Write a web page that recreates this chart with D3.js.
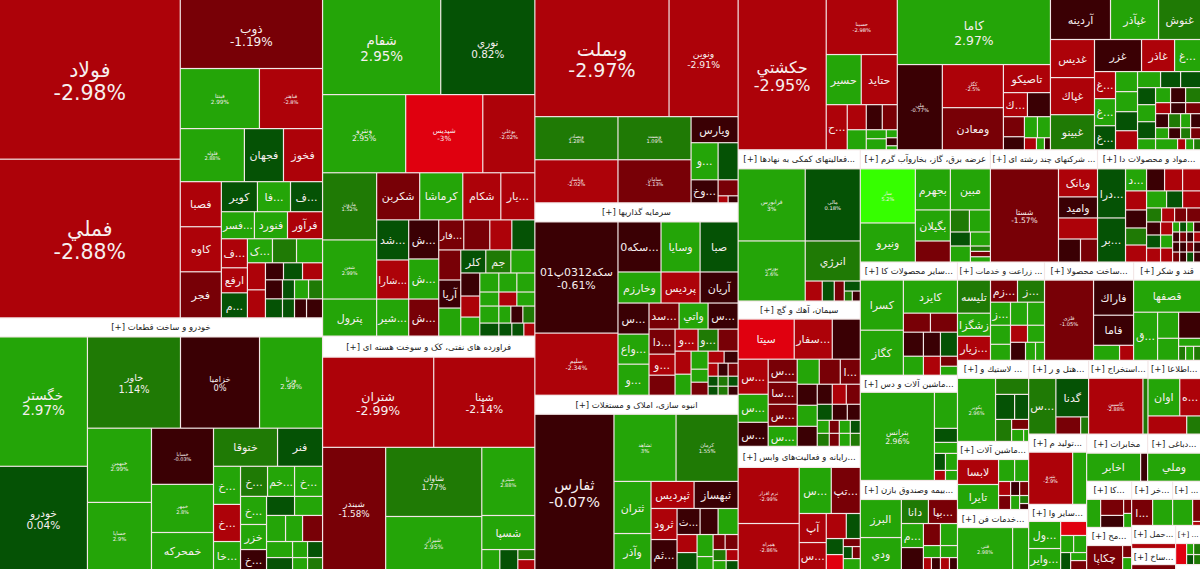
<!DOCTYPE html>
<html>
<head>
<meta charset="utf-8">
<script src="https://cdn.jsdelivr.net/npm/d3@7/dist/d3.min.js"></script>
<style>
  html, body { margin: 0; padding: 0; background: #f3e7e7; overflow: hidden; }
  svg { display: block; }
  text { font-family: "DejaVu Sans", "Noto Sans", sans-serif; }
</style>
</head>
<body>
<svg id="map" width="1200" height="569"></svg>
<script>
// R lays its children left to right, S top to bottom
function R() { return { dir: 'row', children: Array.prototype.slice.call(arguments) }; }
function S() { return { dir: 'stack', children: Array.prototype.slice.call(arguments) }; }
// c = cell with name only, big = cell with name and percent, h = sector title strip
function c(value, change, name) { return { value: value, change: change, name: name || '' }; }
function big(value, change, name) { return { value: value, change: change, name: name, showPct: true }; }
function h(value, name) { return { value: value, title: name }; }

// values are cell areas, change is the day's percent
// (where no percent is printed it is estimated from the cell colour)
var metalsTiny = S(R(c(306, -0.5), c(323, 0.5), c(340, -2.5)),
  R(S(c(323, -0.5), c(323, 0.5)),
    S(R(c(228, 0.5), c(266, 2.6), c(266, 1.4)),
      R(c(228, 0.5), c(228, -0.5), c(304, -0.5)))));
var metals = S(
  R(S(big(28800, -2.98, 'فولاد'), big(28600, -2.88, 'فملي')),
    S(big(9800, -1.19, 'ذوب'),
      R(big(4740, 2.99, 'فینتا'), big(3780, -2.8, 'فباهنر')),
      R(big(3392, 2.88, 'فلوله'), c(2067, 0.5, 'فجهان'), c(2067, -2.5, 'فخوز')),
      R(S(c(1845, -2.5, 'فصبا'), c(1845, -2.5, 'کاوه'), c(1886, -1.4, 'فجر')),
        S(R(c(1080, 0.5, 'کویر'), c(990, 2.6, '...فا'), c(960, 0.5, '...ف')),
          R(c(891, 2.6, '...فسر'), c(891, 2.6, 'فنورد'), c(945, -2.5, 'فرآور')),
          R(S(c(754, -2.5, '...ف'), c(650, -2.5, 'ارفع'), c(650, 0.5, '...م')),
            S(R(c(600, 2.6, '...ک'), c(576, 1.4), c(624, 2.6)),
              R(S(c(486, -2.5), c(504, -2.5)), metalsTiny)))))))
);

var autosTiny = S(R(c(532, 0.5), c(532, 2.6)),
  R(c(494, 2.6), c(442, 2.6), c(520, -1.4)),
  R(c(416, 2.6), c(240, 2.6), c(240, 0.5)),
  R(c(312, 0.5), c(180, 2.6), c(180, 1.4)));
var autos = R(
  S(big(11352, 2.97, 'خگستر'), big(9064, 0.04, 'خودرو')),
  S(R(big(8463, 1.14, 'خاور'), big(7189, 0, 'خزامیا'), big(5733, 2.99, 'ورنا')),
    R(S(big(4736, 2.99, 'خبهمن'), big(4288, 2.9, 'خساپا')),
      S(big(3472, -0.03, 'خسایا'), big(2976, 2.8, 'خمهر'), c(2294, 2.8, 'خمحرکه')),
      S(R(c(2432, 1.4, 'ختوقا'), c(1710, 0.5, 'فنر')),
        R(S(c(1026, 2.8, '...خ'), c(999, -2.5, '...خ'), c(756, 2.8, '...خا')),
          S(R(c(810, 1.4, '...خ'), c(810, 2.6, '...خم'), c(840, 2.6, '...خ')),
            R(S(c(728, 2.6, '...خ'), c(650, 2.6, 'خزر'), c(520, -0.5, '...خ')), autosTiny)))))
  )
);

var chemTiny = S(R(c(361, 2.6), c(342, 2.6), c(342, 2.6)),
  R(c(266, 2.6), c(252, -2.5), c(252, 2.6)),
  R(c(323, 2.6), c(204, 2.6), c(204, -0.5), c(204, 1.4)),
  R(c(247, 0.5), c(169, 0.5), c(156, 0.5), c(143, -2.5)));
var chemSmall = S(R(c(750, -1.4, '...فار'), c(780, -1.4), c(660, -2.5), c(690, 0.5)),
  R(S(c(660, -1.4), c(616, -0.5, 'آریا'), c(616, 2.6)),
    S(R(c(575, 0.5, 'کلر'), c(575, 1.4, 'جم'), c(552, 2.6)),
      R(S(c(437, -0.5), c(399, -2.5), c(361, 2.6)), chemTiny))));
var chemicals = S(
  R(big(11210, 2.95, 'شفام'), big(8930, 0.82, 'نوري')),
  R(big(6474, 2.95, 'ونترو'), big(6006, -3, 'شپدیس'), big(4056, -2.02, 'بوعلي')),
  R(S(big(3618, 1.52, 'مارون'), big(3186, 2.99, 'شفن'), c(1998, 2.6, 'پترول')),
    S(R(c(2021, -1.4, 'شکربن'), c(2021, 2.6, 'کرماشا'), c(1786, -2.5, 'شکام'), c(1598, -2.5, '...یار')),
      R(S(c(1280, 0.5, '...شد'), c(1248, -2.5, '...شارا'), c(1184, 2.6, '...شیر')),
        S(c(1170, -0.5, '...ش'), c(1200, 2.6, '...ش'), c(1110, -1.4, '...ش')),
        chemSmall)))
);

var oil = S(
  R(big(9990, -2.99, 'شتران'), big(9090, -2.14, 'شپنا')),
  R(big(7686, -1.58, 'شبندر'),
    S(big(6624, 1.77, 'شاوان'), big(5088, 2.95, 'شیراز')),
    S(big(3604, 2.88, 'شپترو'), c(1802, 2.6, 'شسپا'),
      R(c(360, 2.6), c(360, 0.5), S(c(170, 1.4), c(170, -2.5)))))
);

var banks = S(
  R(big(15678, -2.97, 'وبملت'), big(8073, -2.91, 'ونوین')),
  R(S(big(3569, 1.28, 'وبصادر'), big(3569, -2.02, 'وپاسار')),
    S(big(3139, 1.09, 'وپست'), big(3139, -1.13, 'سامان')),
    S(c(1222, -0.5, 'ویارس'),
      R(c(999, 2.6, '...و'), c(740, 0.5)),
      R(c(621, -0.5, '...وخ'), S(c(320, -1.4), R(c(70, -2.5), c(70, -0.5))))))
);

var investTiny = S(R(c(192, -2.5), c(168, -0.5)),
  R(c(130, -2.5), c(130, -0.5), c(130, -1.4)),
  R(c(100, 0.5), c(100, 1.4), c(100, 0.5)),
  R(c(90, 0.5), c(90, 1.4), c(90, -0.5)));
var investSmall = S(R(c(780, -1.4, '...سد'), c(754, 2.6, 'واتي'), c(780, -0.5, '...س')),
  R(S(c(650, -1.4, '...دا'), c(546, -2.5, '...و'), c(520, -1.4)),
    S(R(c(506, -2.5, '...و'), c(440, 1.4, '...و'), c(440, -1.4)),
      R(S(c(368, -2.5), c(336, 2.6)), S(c(306, 2.6), c(221, 2.6), c(221, -1.4)), investTiny))));
var investments = R(
  S(big(9213, -0.61, 'سکه0312پ01'), big(5146, -2.34, 'سلیم')),
  S(R(c(2150, -0.5, '...سکه0'), c(1950, 2.6, 'وسایا'), c(1900, 0.5, 'صبا')),
    R(c(1333, 2.6, 'وخارزم'), c(1209, -2.5, 'پردیس'), c(1178, -0.5, 'آریان')),
    R(S(c(961, -0.5, '...س'), c(930, 2.6, '...واع'), c(961, 2.6, '...و')), investSmall))
);

var estateTiny = S(R(c(180, -1.4), c(195, -1.4)),
  R(c(143, 1.4), c(132, -2.5)),
  R(c(117, 2.6), c(108, 0.5)));
var realEstate = R(
  big(12245, -0.07, 'ثفارس'),
  S(R(big(4154, 3, 'ثشاهد'), big(4154, 1.55, 'کرمان')),
    R(S(c(1924, 2.6, 'ثتران'), c(1332, 2.6, 'وآذر')),
      S(R(c(1161, -2.5, 'ثپردیس'), c(1188, -0.5, 'ثبهساز')),
        R(S(c(806, -2.5, 'ثرود'), c(780, -0.5, '...ثم')),
          S(R(c(598, -0.5, '...ث'), c(468, -0.5), c(520, 2.6)),
            R(S(c(360, -2.5), c(340, 0.5)), S(c(352, 2.6), c(208, 2.6)), estateTiny))))))
);

var pharma = R(
  big(13200, -2.95, 'حکشتي'),
  S(big(3905, -2.98, 'حسینا'),
    R(c(1750, 2.6, 'حسیر'), c(1800, -2.5, 'حتاید')),
    R(c(945, -2.5, '...ح'),
      S(R(c(475, -2.5), c(400, -0.5), c(375, -1.4)),
        R(c(380, 2.6), S(c(180, 2.6), c(220, 2.6)), S(c(88, 2.6), c(88, -0.5), c(44, 2.6))))))
);

var mining = S(
  big(9945, 2.97, 'کاما'),
  R(big(3825, -0.77, 'ملي'),
    S(big(2623, -2.5, 'کگل'), c(2562, -1.4, 'ومعادن')),
    S(c(1316, -2.5, 'تاصیکو'),
      R(c(576, -2.5, '...ك'), c(552, -0.5)),
      R(S(c(420, -1.4), c(273, -0.5)),
        S(R(c(273, 2.6), c(273, 2.6)), R(c(144, -2.5), c(96, 2.6), c(72, -0.5))))))
);

var foodTiny = S(R(c(225, 2.6), c(225, -0.5), c(225, 1.4)),
  R(c(165, -2.5), c(165, -0.5), c(165, -1.4)),
  R(c(182, -0.5), c(168, 1.4), c(140, 2.6), c(140, -0.5)),
  R(c(143, 2.6), c(132, -0.5), c(110, 1.4), c(110, -1.4)),
  R(c(242, 2.6), c(88, -2.5), c(88, 2.6), c(77, 1.4)));
var foodSmall = S(R(c(368, 2.6), c(320, 0.5), c(320, 0.5)),
  R(S(c(306, 0.5), c(306, 2.6), c(306, 0.5), c(198, 2.6)), foodTiny));
var food = S(
  R(c(2400, -0.5, 'آردینه'), c(1920, 2.6, 'غپآذر'), c(1680, 1.4, 'غنوش')),
  R(S(c(1672, -2.5, 'غدیس'), c(1628, -2.5, 'غپاك'), c(1540, 1.4, 'غبینو')),
    S(R(c(1504, -0.5, 'غزر'), c(1056, -2.5, 'غاذر'), c(832, 2.6, '...غ')),
      R(S(c(567, -2.5, '...غ'), c(567, 2.6, '...غ'), c(504, 0.5, '...غ')),
        S(c(440, 2.6), c(440, 2.6), c(418, 0.5), c(418, -2.5)),
        foodSmall)))
);

var financial = R(
  S(big(4824, 3, 'فرابورس'), big(4020, 2.6, 'بورس')),
  S(big(3960, 0.18, 'مالی'), c(2200, 1.4, 'انرژي'),
    R(c(340, -2.5), c(240, 0.5), c(200, -1.4), S(c(160, 0.5), R(c(80, 1.4), c(80, -0.5)))))
);

var cementTiny = S(R(c(300, -0.5), c(280, -2.5), c(280, -1.4)),
  R(c(240, 0.5), c(240, -0.5), c(208, -0.5)),
  R(S(c(156, 2.6), c(156, 1.4)), S(c(130, -1.4), c(130, -1.4)), S(c(143, 2.6), c(143, 2.6)), S(c(130, 0.5), c(130, 1.4))));
var cement = S(
  R(c(2240, -3.2, 'سیتا'), c(1520, -2.5, '...سفار'), c(1120, -0.5)),
  R(S(c(1050, -2.5, '...س'), c(840, 2.6, '...س'), c(720, -0.5, '...س')),
    S(c(667, -1.4, '...س'), c(638, -1.4, '...سا'), c(638, -1.4, '...س'), c(580, 2.6, '...س')),
    S(R(c(550, 2.6), c(525, -1.4), c(500, -1.4, '...ا')),
      R(S(c(420, -0.5), c(420, 2.6), c(400, -0.5)), cementTiny)))
);

var computing = R(
  S(big(3416, -2.99, 'نرم افزار'), big(2806, -2.86, 'همراه')),
  S(R(c(1472, 2.6, '...س'), c(1334, -1.4, '...تپ')),
    R(S(c(783, -2.5, 'آپ'), c(729, -2.5, '...س')),
      S(R(c(500, -2.5), c(350, 0.5)),
        R(S(c(272, 0.5), c(255, -3.2)),
          S(c(136, -1.4), R(c(108, 0.5), c(96, -1.4)), c(187, 2.6))))))
);

var power = R(
  S(big(2970, 5.2, 'ساز'), c(2145, 2.6, 'ونیرو')),
  S(c(1435, 2.6, 'بجهرم'), c(1085, 2.6, 'بگیلان'), c(735, -1.4)),
  S(c(1640, 2.6, 'مبین'), R(c(418, 1.4), c(462, 2.6)), R(c(280, 0.5), c(280, 2.6)),
    R(c(320, 2.6), S(c(107, 1.4), c(107, -1.4), c(106, 2.6))))
);

var holdings = R(
  big(6324, -1.57, 'شستا'),
  S(c(1092, -2.5, 'وبانک'), c(819, -0.5, 'وامید'), c(819, -2.5), R(c(506, -0.5), c(391, -1.4)))
);

var materialsTiny = S(R(c(70, 2.6), c(70, 0.5), c(70, 2.6), c(70, -0.5)),
  R(c(70, -0.5), c(70, -1.4), c(70, -0.5), c(70, -2.5)),
  R(c(70, -0.5), c(70, -0.5), c(70, -1.4), c(70, -0.5)),
  R(c(70, -1.4), c(70, -0.5), c(70, 0.5), c(70, -0.5)));
var medicalMaterials = R(
  S(c(1372, 0.5, '...درا'), c(1232, 0.5, '...بر')),
  S(c(462, 2.6, '...د'), c(399, -2.5), c(378, -0.5), c(357, 1.4), c(357, -2.5)),
  S(R(c(396, -0.5), c(396, -2.5), c(396, -2.5)),
    R(c(340, 2.6), c(272, 0.5), c(306, -2.5)),
    R(c(210, 1.4), c(182, -2.5), c(168, -1.4), c(196, -1.4)),
    R(S(c(182, -0.5), c(182, 0.5), c(196, -2.5)),
      S(c(156, -2.5), c(156, 2.6), c(168, -2.5)),
      materialsTiny))
);

var otherProducts = R(
  S(c(2150, 2.6, 'کسرا'), c(1935, 2.6, 'کگاز')),
  S(c(1782, 2.6, 'کایزد'),
    R(c(513, -1.4), c(513, -1.4)),
    R(c(480, -0.5), c(408, -0.5), c(408, 0.5)),
    R(c(380, 2.6), c(323, -2.5), S(c(170, -1.4), c(153, 2.6))))
);

var machinery = R(
  big(6512, 2.96, 'بترانس'),
  S(c(828, 2.6), c(322, 0.5), c(253, 2.6),
    R(S(c(187, 0.5), c(110, -2.5)), S(c(204, 2.6), c(120, 2.6))))
);

var insurance = R(
  S(c(1558, 2.6, 'البرز'), c(1312, 2.6, 'ودي')),
  S(R(c(648, 1.4, 'دانا'), c(696, -1.4, '...بپا')),
    R(S(c(528, 2.6, '...م'), c(484, -0.5)),
      S(R(c(374, -1.4), c(374, 2.6)),
        R(c(204, 2.6), c(204, 2.6)),
        R(c(96, -2.5), c(108, -0.5), c(108, -2.5), c(96, -0.5)))))
);

var farming = R(
  S(c(1089, 1.4, 'تلیسه'), c(759, 2.6, 'زشگزا'), c(792, -2.5, '...زیار')),
  S(R(c(594, -1.4, '...زم'), c(594, 1.4, '...ز')),
    R(S(c(460, 2.6, '...ز'), c(380, 2.6), c(320, 2.6)),
      S(R(c(391, 2.6), c(391, 2.6)),
        R(c(289, -2.5), c(289, 2.6)),
        R(c(270, -0.5), c(180, 2.6), c(162, 2.6)))))
);

var fabricated = R(
  big(3920, -1.05, 'فلزی'),
  S(c(1400, -0.5, 'فاراك'), c(1200, -0.5, 'فاما'), R(c(390, 2.6), c(210, -2.5)))
);

var sugar = S(
  c(2144, 2.6, 'قصفها'),
  R(c(1152, 2.6, '...ق'),
    S(c(546, 2.6), c(462, 2.6)),
    S(c(572, -0.5), c(176, 2.6), R(c(98, 1.4), c(112, 2.6), c(98, 1.4))))
);

var rubber = R(
  big(2394, 2.96, 'پکویر'),
  S(c(528, 1.4), R(c(475, 0.5), c(350, 0.5)),
    R(c(352, 1.4), S(c(170, -1.4), R(c(144, 2.6), c(60, 2.6)))))
);

var tools = R(
  S(c(1025, -2.5, 'لابسا'), c(1025, 2.6, 'تایرا')),
  S(R(c(352, 2.6), c(308, 2.6)),
    R(S(c(168, -2.5), c(168, -1.4)), S(c(126, -0.5), c(126, 2.6)), S(c(126, -1.4), c(72, 1.4), c(54, -0.5))))
);

var techServices = R(big(2310, 2.98, 'فنی'), c(672, 2.6));

var hotels = R(
  c(1512, 1.4, '...س'),
  S(c(1254, 0.5, 'گدنا'), R(c(425, -1.4), c(136, 1.4)))
);
var extraction = R(big(3024, -2.88, 'کاسپین'), c(280, 1.4));
var infoTech = S(
  R(c(1184, 2.6, 'اوان'), c(777, -2.5, '...ه')),
  R(c(702, -2.5), c(252, 1.4))
);

var devices = R(big(2288, -2.9, 'بنیرو'), c(728, 2.6));
var otherMisc = R(
  S(c(864, 2.6, '...ول'), c(672, 2.6, '...وایر')),
  S(c(364, -3.2), R(c(221, 2.6), c(221, 2.6)), R(c(170, 0.5), S(c(128, 2.6), c(144, -1.4))))
);
var telecom = R(c(1512, 2.6, 'اخابر'), c(196, -0.5));
var leather = c(1484, 2.6, 'وملي');
var sectorKa = R(c(392, 2.6), S(c(368, -1.4), c(276, -0.5)), S(c(112, -1.4), c(112, 2.6)));
var sectorMa = R(c(864, -1.4, 'چکاپا'), S(c(108, -1.4), c(108, 2.6)));
var retail = R(c(546, -1.4, '...ا'), c(520, 2.6));
var sectorSmall = R(c(520, 2.6), S(c(176, -1.4), c(32, -2.5)));
var transport = c(220, -2.5);
var building = c(220, -1.4);
var sectorTiny = R(c(231, -3.2), S(R(c(77, 2.6), c(77, 1.4)), R(c(70, 0.5), c(70, 1.4))));

// how the sectors are put together, with the weight of each title strip
var market = R(
  S(metals, h(6137, 'خودرو و ساخت قطعات [+]'), autos),
  S(chemicals, h(4452, 'فراورده های نفتی، کک و سوخت هسته ای [+]'), oil),
  S(banks, h(3857, 'سرمایه گذاریها [+]'), investments, h(3857, 'انبوه سازی، املاک و مستغلات [+]'), realEstate),
  S(
    R(pharma, mining, food),
    R(
      S(h(2318, '...فعالیتهای کمکی به نهادها [+]'), financial,
        h(2196, 'سیمان، آهك و گچ [+]'), cement,
        h(2562, '...رایانه و فعالیت‌های وابس [+]'), computing),
      S(
        R(
          S(h(2470, 'عرضه برق، گاز، بخاروآب گرم [+]'), power),
          S(h(2033, '... شرکتهای چند رشته ای [+]'), holdings),
          S(h(1957, '...مواد و محصولات دا [+]'), medicalMaterials)
        ),
        R(
          S(h(1746, '...سایر محصولات کا [+]'), otherProducts,
            h(1649, '...ماشین آلات و دس [+]'), machinery,
            h(1843, '...بیمه وصندوق بازن [+]'), insurance),
          S(
            R(
              S(h(1566, '... زراعت و خدمات [+]'), farming),
              S(h(1602, '...ساخت محصولا [+]'), fabricated),
              S(h(1206, 'قند و شکر [+]'), sugar)
            ),
            R(
              S(h(1278, '... لاستیك و [+]'), rubber,
                h(1278, '...ماشین آلات [+]'), tools,
                h(1278, '...خدمات فن [+]'), techServices),
              S(
                R(
                  S(h(1080, '...هتل و ر [+]'), hotels),
                  S(h(1062, '...استخراج [+]'), extraction),
                  S(h(954, '...اطلاعا [+]'), infoTech)
                ),
                R(
                  S(h(1044, '...تولید م [+]'), devices, h(986, '...سایر وا [+]'), otherMisc),
                  S(
                    R(
                      S(h(1159, 'مخابرات [+]'), telecom),
                      S(h(1007, '...دباغی [+]'), leather)
                    ),
                    R(
                      S(h(810, '...کا [+]'), sectorKa, h(810, '...مح [+]'), sectorMa),
                      S(
                        R(
                          S(h(738, '...خر [+]'), retail),
                          S(h(504, '... [+]'), sectorSmall)
                        ),
                        R(
                          S(h(792, '...حمل [+]'), transport, h(704, '...ساخ [+]'), building),
                          S(h(450, '... [+]'), sectorTiny, h(125, ''))
                        )
                      )
                    )
                  )
                )
              )
            )
          )
        )
      )
    )
  )
);

var width = 1200, height = 569;

var color = d3.scaleThreshold()
  .domain([-2.995, -1.9, -0.9, 0.01, 1, 1.9, 4])
  .range(['#e0000f', '#ad0209', '#780006', '#3a0004', '#055205', '#1f7a05', '#24a508', '#36ff00']);

// label size follows the cell weight, as on the original map
var labelSize = d3.scaleLinear()
  .domain([3500, 4600, 6400, 7000, 8000, 9000, 10000, 11300, 12245, 13200, 15400, 28800])
  .range([5, 5.5, 7.6, 8, 9.2, 10.5, 12.5, 13.5, 14.5, 16, 19, 20.5])
  .clamp(true);

function tile(node, x0, y0, x1, y1) {
  (node.data.dir === 'row' ? d3.treemapDice : d3.treemapSlice)(node, x0, y0, x1, y1);
}

// shrink a text until it fits the width of its cell
function fit(text, maxWidth) {
  var len = text.node().getComputedTextLength();
  if (len > maxWidth) {
    text.attr('font-size', +text.attr('font-size') * maxWidth / len);
  }
}

var root = d3.hierarchy(market).sum(function (d) { return d.value || 0; });
d3.treemap().size([width, height]).tile(tile).paddingInner(1.2)(root);

var svg = d3.select('#map');
var leaves = root.leaves();

var cell = svg.selectAll('g').data(leaves).join('g')
  .attr('transform', function (d) { return 'translate(' + d.x0 + ',' + d.y0 + ')'; });

cell.append('rect')
  .attr('width', function (d) { return Math.max(0, d.x1 - d.x0); })
  .attr('height', function (d) { return Math.max(0, d.y1 - d.y0); })
  .attr('fill', function (d) { return d.data.title !== undefined ? '#fff' : color(d.data.change); });

// title strips
cell.filter(function (d) { return d.data.title; }).each(function (d) {
  var w = d.x1 - d.x0, hh = d.y1 - d.y0;
  var label = d3.select(this).append('text')
    .attr('x', w / 2)
    .attr('y', hh / 2 + 3)
    .attr('text-anchor', 'middle')
    .attr('direction', 'rtl')
    .attr('font-size', 8.5)
    .attr('fill', '#222')
    .text(d.data.title);
  fit(label, w - 3);
});

// cell labels
cell.filter(function (d) { return d.data.name; }).each(function (d) {
  var g = d3.select(this);
  var w = d.x1 - d.x0, hh = d.y1 - d.y0;
  var size = d.data.showPct ? labelSize(d.value) : 11;
  var label = g.append('text')
    .attr('x', w / 2)
    .attr('y', d.data.showPct ? hh / 2 - size * 0.12 : hh / 2 + size * 0.38)
    .attr('text-anchor', 'middle')
    .attr('direction', 'rtl')
    .attr('font-size', size)
    .attr('fill', '#f7efef')
    .text(d.data.name);
  fit(label, w - 2);
  if (d.data.showPct) {
    g.append('text')
      .attr('x', w / 2)
      .attr('y', hh / 2 + size * 1.02)
      .attr('text-anchor', 'middle')
      .attr('font-size', size)
      .attr('fill', '#f7efef')
      .text(d.data.change + '%');
  }
});
</script>
</body>
</html>
